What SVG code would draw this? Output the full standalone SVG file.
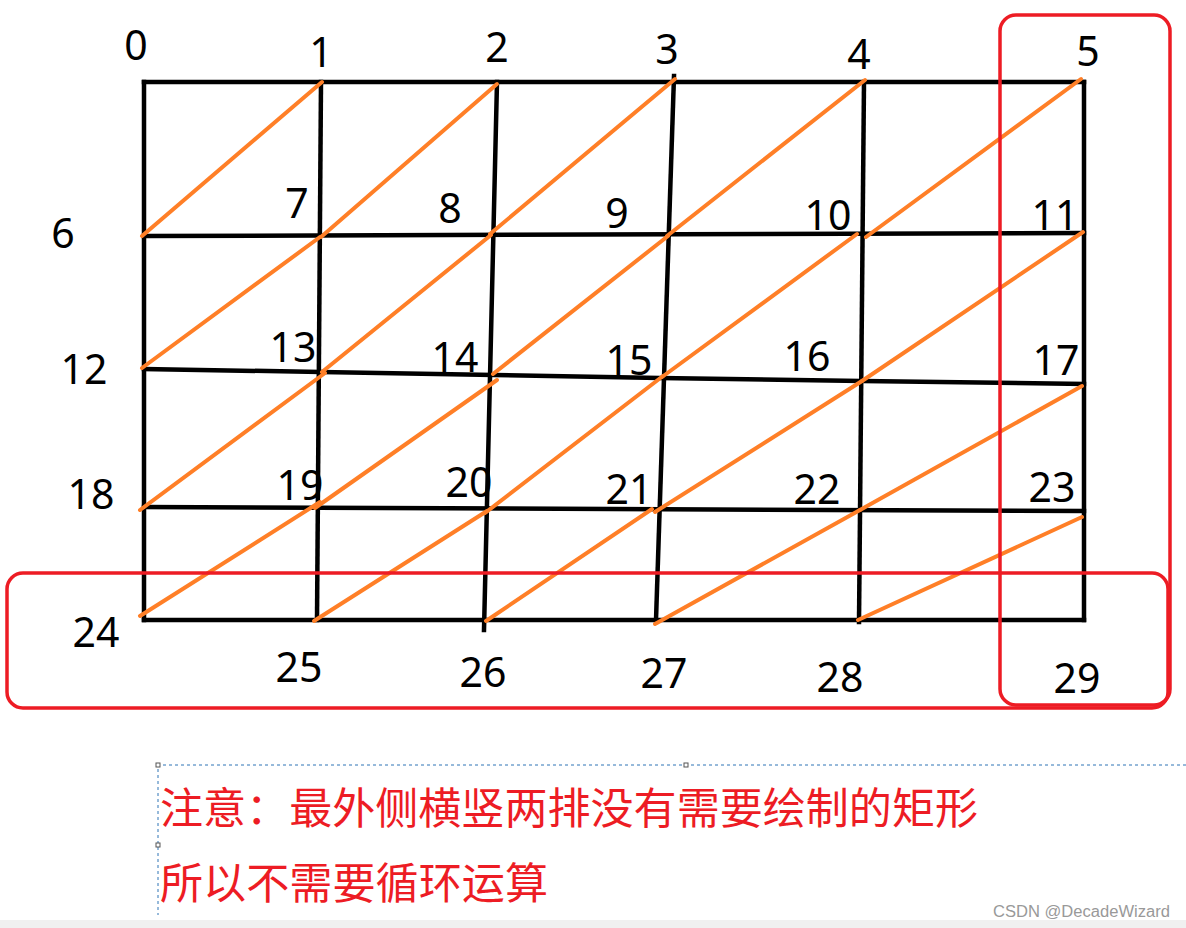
<svg xmlns="http://www.w3.org/2000/svg" width="1186" height="928" viewBox="0 0 1186 928">
<style>
.g{stroke:#000;stroke-width:4.5;fill:none;stroke-linecap:square;stroke-linejoin:miter}
.o{stroke:#FF7F27;stroke-width:4;fill:none;stroke-linecap:round}
.r{stroke:#ED1C24;stroke-width:3.5;fill:none}
.n{font-family:"Noto Sans","DejaVu Sans",sans-serif;font-size:41px;fill:#000;text-anchor:middle}
.t{font-family:"Noto Sans CJK SC",sans-serif;font-size:43px;fill:#ED1C24}
.sel{stroke:#2E75B6;stroke-width:1;stroke-dasharray:3 3;fill:none}
.h{fill:#fff;stroke:#555;stroke-width:1}
</style>
<rect width="1186" height="928" fill="#fff"/>
<g id="grid">
<polyline class="g" points="144,82 1084,82"/>
<polyline class="g" points="144,236 1084,233"/>
<polyline class="g" points="144,369 321,372 494,375 660,378 862,381 1084,384"/>
<polyline class="g" points="144,507 1084,511"/>
<polyline class="g" points="144,620 1084,620"/>
<polyline class="g" points="144,82 144,620"/>
<polyline class="g" points="321,82 317,620"/>
<polyline class="g" points="497,82 484,630"/>
<polyline class="g" points="674,76 656,620"/>
<polyline class="g" points="864,82 859,622"/>
<polyline class="g" points="1084,82 1084,620"/>
</g>
<g id="connectors">
<line class="o" x1="142" y1="236" x2="322" y2="82"/>
<line class="o" x1="321" y1="237" x2="497" y2="84"/>
<line class="o" x1="490" y1="234" x2="675" y2="79"/>
<line class="o" x1="667" y1="236" x2="865" y2="80"/>
<line class="o" x1="866" y1="237" x2="1081" y2="79"/>
<line class="o" x1="142" y1="368" x2="320" y2="237"/>
<line class="o" x1="322" y1="372" x2="491" y2="235"/>
<line class="o" x1="493" y1="374" x2="668" y2="236"/>
<line class="o" x1="662" y1="377" x2="857" y2="234"/>
<line class="o" x1="862" y1="381" x2="1083" y2="232"/>
<line class="o" x1="140" y1="510" x2="325" y2="373"/>
<line class="o" x1="315" y1="508" x2="497" y2="380"/>
<line class="o" x1="485" y1="513" x2="663" y2="376"/>
<line class="o" x1="655" y1="512" x2="862" y2="381"/>
<line class="o" x1="860" y1="510" x2="1082" y2="386"/>
<line class="o" x1="140" y1="616" x2="320" y2="502"/>
<line class="o" x1="314" y1="621" x2="487" y2="511"/>
<line class="o" x1="486" y1="621" x2="652" y2="509"/>
<line class="o" x1="655" y1="624" x2="860" y2="510"/>
<line class="o" x1="858" y1="620" x2="1082" y2="517"/>
</g>
<g id="labels">
<text class="n" x="136" y="60">0</text>
<text class="n" x="321" y="67">1</text>
<text class="n" x="497" y="62">2</text>
<text class="n" x="667" y="64">3</text>
<text class="n" x="859" y="69">4</text>
<text class="n" x="1088" y="66">5</text>
<text class="n" x="63" y="248">6</text>
<text class="n" x="297" y="218">7</text>
<text class="n" x="450" y="223">8</text>
<text class="n" x="617" y="228">9</text>
<text class="n" x="828" y="230">10</text>
<text class="n" x="1055" y="230">11</text>
<text class="n" x="84" y="384">12</text>
<text class="n" x="293" y="362">13</text>
<text class="n" x="455" y="372">14</text>
<text class="n" x="629" y="375">15</text>
<text class="n" x="807" y="371">16</text>
<text class="n" x="1056" y="375">17</text>
<text class="n" x="91" y="509">18</text>
<text class="n" x="300" y="500">19</text>
<text class="n" x="469" y="497">20</text>
<text class="n" x="629" y="504">21</text>
<text class="n" x="817" y="504">22</text>
<text class="n" x="1052" y="502">23</text>
<text class="n" x="96" y="647">24</text>
<text class="n" x="299" y="682">25</text>
<text class="n" x="483" y="687">26</text>
<text class="n" x="664" y="688">27</text>
<text class="n" x="840" y="692">28</text>
<text class="n" x="1077" y="693">29</text>
</g>
<g id="highlights">
<rect class="r" x="1000" y="15" width="170" height="690" rx="16"/>
<rect class="r" x="7" y="573" width="1161" height="135" rx="16"/>
</g>
<g id="note">
<polyline class="sel" points="1186,765 158,765 158,915"/>
<rect class="h" x="156" y="763" width="4" height="4"/>
<rect class="h" x="684" y="763" width="4" height="4"/>
<rect class="h" x="156" y="843" width="4" height="4"/>
<text class="t" x="160" y="824" textLength="818" lengthAdjust="spacingAndGlyphs">注意：最外侧横竖两排没有需要绘制的矩形</text>
<text class="t" x="160" y="899" textLength="388" lengthAdjust="spacingAndGlyphs">所以不需要循环运算</text>
</g>
<rect x="0" y="920" width="1186" height="8" fill="#F0F0F0"/>
<text x="993" y="917" font-family="'Liberation Sans',sans-serif" font-size="16" fill="#999" textLength="177" lengthAdjust="spacingAndGlyphs">CSDN @DecadeWizard</text>
</svg>
